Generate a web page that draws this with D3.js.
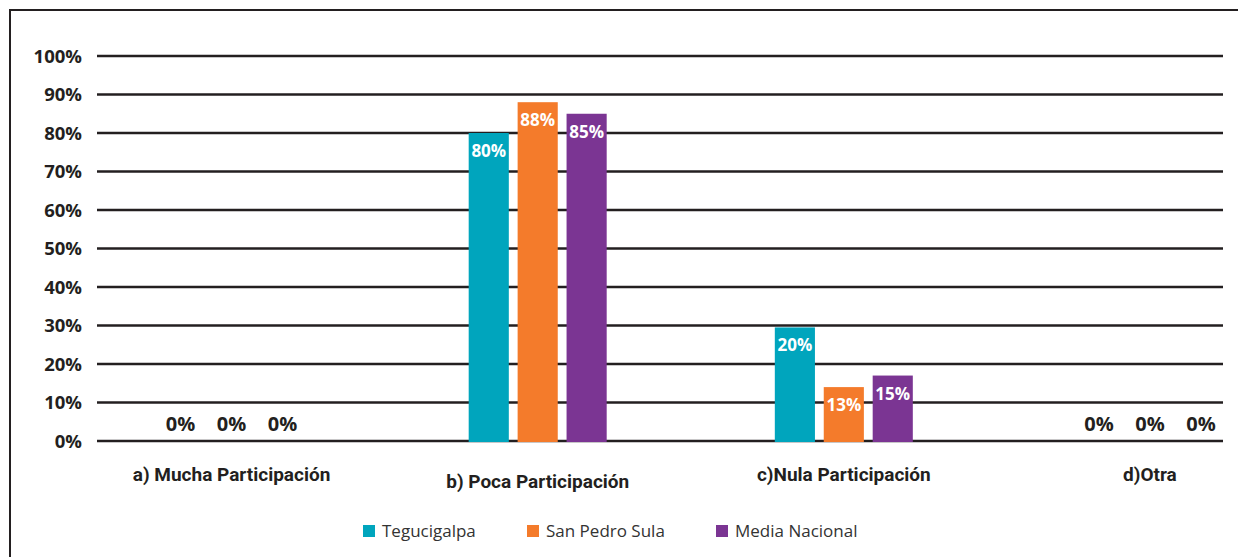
<!DOCTYPE html>
<html>
<head>
<meta charset="utf-8">
<script src="https://cdn.jsdelivr.net/npm/d3@7"></script>
<style>
html,body{margin:0;padding:0;background:#fff;}
svg{display:block;}
</style>
</head>
<body>
<svg id="chart" width="1238" height="557"></svg>
<script>
const categories = ["a) Mucha Participación", "b) Poca Participación", "c)Nula Participación", "d)Otra"];
const seriesNames = ["Tegucigalpa", "San Pedro Sula", "Media Nacional"];
const colors = ["#00A5BD", "#F47B2B", "#7B3593"];
// bar heights as drawn
const tegucigalpa = [0, 80, 29.5, 0];
const sanPedroSula = [0, 88, 14, 0];
const mediaNacional = [0, 85, 17, 0];
// labels as printed
const tegucigalpaLabels = ["0%", "80%", "20%", "0%"];
const sanPedroSulaLabels = ["0%", "88%", "13%", "0%"];
const mediaNacionalLabels = ["0%", "85%", "15%", "0%"];
const yTicks = [0, 10, 20, 30, 40, 50, 60, 70, 80, 90, 100];

const seriesValues = [tegucigalpa, sanPedroSula, mediaNacional];
const seriesLabels = [tegucigalpaLabels, sanPedroSulaLabels, mediaNacionalLabels];

const svg = d3.select("#chart");
const W = 1238, H = 557;

// frame
svg.append("line").attr("x1", 10).attr("x2", 10).attr("y1", 9).attr("y2", H).attr("stroke", "#231F20").attr("stroke-width", 2);
svg.append("line").attr("x1", 9).attr("x2", W).attr("y1", 10).attr("y2", 10).attr("stroke", "#231F20").attr("stroke-width", 2);

const plotLeft = 97, plotRight = 1223;
const y = d3.scaleLinear().domain([0, 100]).range([441, 56]);
const x0 = d3.scaleBand().domain(categories).range([78.5, 1303]).paddingInner(0).paddingOuter(0);
const x1 = d3.scaleBand().domain(seriesNames).range([0, 138]).paddingInner(0.18).paddingOuter(0);
const xz = d3.scalePoint().domain(seriesNames).range([-51, 51]);

// gridlines
svg.append("g").selectAll("line").data(yTicks).join("line")
  .attr("x1", plotLeft).attr("x2", plotRight)
  .attr("y1", d => y(d)).attr("y2", d => y(d))
  .attr("stroke", "#231F20").attr("stroke-width", 2.5);

// y axis labels
const yAxis = d3.axisLeft(y).tickValues(yTicks).tickFormat(d => d + "%").tickSize(0).tickPadding(0);
const gy = svg.append("g").attr("transform", "translate(82,0)").call(yAxis);
gy.select(".domain").remove();
gy.selectAll("text").attr("font-family", "'Open Sans', sans-serif").attr("font-weight", 700)
  .attr("font-size", 18.5).attr("fill", "#231F20").attr("dy", "0.35em");

// bars
const groups = svg.append("g").selectAll("g").data(categories).join("g")
  .attr("transform", d => `translate(${x0(d) + x0.bandwidth() / 2},0)`);

groups.each(function(cat, ci) {
  const g = d3.select(this);
  seriesNames.forEach((s, si) => {
    const v = seriesValues[si][ci];
    const lab = seriesLabels[si][ci];
    const bx = x1(s) - 69, bw = x1.bandwidth();
    if (v > 0) {
      g.append("rect").attr("x", bx).attr("width", bw)
        .attr("y", y(v)).attr("height", y(0) - y(v) + 1)
        .attr("fill", colors[si]);
      g.append("text").attr("x", bx + bw / 2).attr("y", y(v) + 24)
        .attr("text-anchor", "middle").attr("font-family", "'Open Sans', sans-serif")
        .attr("font-weight", 700).attr("font-size", 17).attr("fill", "#fff").text(lab);
    } else {
      g.append("text").attr("x", xz(s)).attr("y", y(0) - 10)
        .attr("text-anchor", "middle").attr("font-family", "'Open Sans', sans-serif")
        .attr("font-weight", 700).attr("font-size", 20).attr("fill", "#231F20").text(lab);
    }
  });
});

// category labels
svg.append("g").selectAll("text").data(categories).join("text")
  .attr("x", d => x0(d) + x0.bandwidth() / 2)
  .attr("y", (d, i) => i === 1 ? 488 : 481)
  .attr("text-anchor", "middle").attr("font-family", "Roboto, sans-serif")
  .attr("font-weight", 700).attr("font-size", 19).attr("fill", "#231F20").text(d => d);

// legend
const legendX = [363, 527, 716];
const lg = svg.append("g").selectAll("g").data(seriesNames).join("g")
  .attr("transform", (d, i) => `translate(${legendX[i]},525)`);
lg.append("rect").attr("width", 12).attr("height", 12).attr("fill", (d, i) => colors[i]);
lg.append("text").attr("x", 19).attr("y", 12).attr("font-family", "'Open Sans', sans-serif")
  .attr("font-size", 17).attr("fill", "#333").text(d => d);
</script>
</body>
</html>
